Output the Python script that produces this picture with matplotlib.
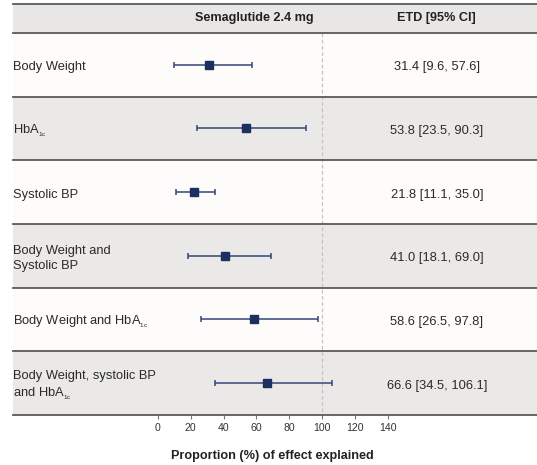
import matplotlib
matplotlib.use("Agg")
import matplotlib.pyplot as plt

plt.rcParams['font.family'] = ['Liberation Sans', 'DejaVu Sans']
plt.rcParams['mathtext.fontset'] = 'custom'
plt.rcParams['mathtext.rm'] = 'Liberation Sans'
plt.rcParams['mathtext.it'] = 'Liberation Sans'

# Forest plot data: proportion (%) of treatment effect explained
HBA1C = r"HbA$_{_{\mathregular{1c}}}$"
labels = [
    "Body Weight",
    HBA1C,
    "Systolic BP",
    "Body Weight and\nSystolic BP",
    "Body Weight and " + HBA1C,
    "Body Weight, systolic BP\nand " + HBA1C,
]
estimates = [31.4, 53.8, 21.8, 41.0, 58.6, 66.6]
ci_low = [9.6, 23.5, 11.1, 18.1, 26.5, 34.5]
ci_high = [57.6, 90.3, 35.0, 69.0, 97.8, 106.1]
tick_values = [0, 20, 40, 60, 80, 100, 120, 140]

header_col = "Semaglutide 2.4 mg"
header_etd = "ETD [95% CI]"
xlabel = "Proportion (%) of effect explained"

W, H = 537, 465
fig = plt.figure(figsize=(W / 100, H / 100), dpi=100)
fig.patch.set_facecolor("white")
ax = fig.add_axes([13 / W, (H - 415) / H, 524 / W, 411 / H])

n = len(labels)
header_h = 29 / ((415 - 33) / n)
ax.set_xlim(-88.4, 231.1)
ax.set_ylim(n, -header_h)
for s in ax.spines.values():
    s.set_visible(False)

# row bands
ax.axhspan(-header_h, 0, color="#e9e7e6", lw=0, zorder=0)
for i in range(n):
    ax.axhspan(i, i + 1, color="#ebe9e8" if i % 2 else "#fdfcfb", lw=0, zorder=0)

# separating rules
for yb in [-header_h] + list(range(n + 1)):
    ax.axhline(yb, color="#5a5a5a", lw=1.3, zorder=3, clip_on=False)

# reference line at 100 %
ax.vlines(100, 0, n, colors="#c4c4c4", linestyles=(0, (3, 2)), lw=0.9, zorder=1)

ys = [i + 0.5 for i in range(n)]
xerr = [[e - l for e, l in zip(estimates, ci_low)],
        [h - e for e, h in zip(estimates, ci_high)]]
ax.errorbar(estimates, ys, xerr=xerr, fmt="s", color="#1c2f5e",
            ecolor="#34457a", elinewidth=1.1, capsize=2.4, capthick=1.1,
            markersize=5.2, zorder=4)

trans_lab = ax.get_yaxis_transform()
for y, lab, e, l, h in zip(ys, labels, estimates, ci_low, ci_high):
    ax.text(0.0, y + 0.04, lab, transform=trans_lab, ha="left", va="center",
            fontsize=9.3, color="#2a2a2a", linespacing=1.35)
    ax.text(170, y + 0.04, f"{e:.1f} [{l:.1f}, {h:.1f}]", ha="center",
            va="center", fontsize=9.3, color="#2a2a2a")

ax.text(59, -header_h / 2, header_col, ha="center", va="center",
        fontsize=9.1, fontweight="bold", color="#222222")
ax.text(170, -header_h / 2, header_etd, ha="center", va="center",
        fontsize=9.1, fontweight="bold", color="#222222")

ax.set_yticks([])
ax.set_xticks(tick_values)
ax.set_xticklabels([str(t) for t in tick_values])
ax.tick_params(axis="x", direction="out", length=3, width=0.8, colors="#777777",
               labelcolor="#333333", labelsize=7.6, pad=3)
ax.set_xlabel(xlabel, fontsize=9.1, fontweight="bold", color="#222222")
ax.xaxis.set_label_coords((70 + 88.4) / (231.1 + 88.4), -0.085)

fig.savefig("out.png", dpi=100, facecolor=fig.get_facecolor())
